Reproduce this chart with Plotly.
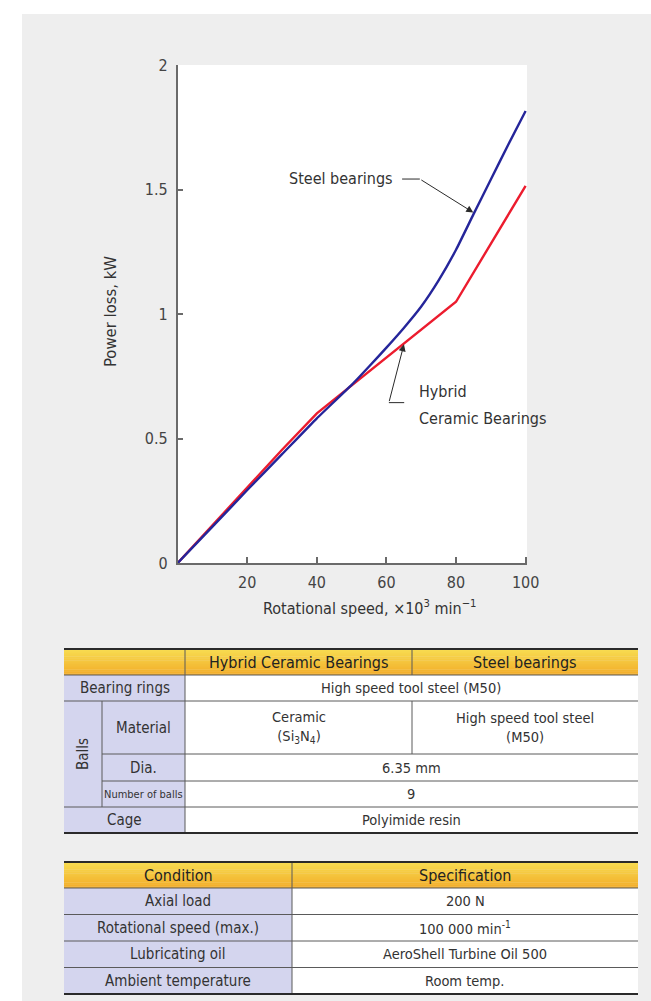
import numpy as np
import plotly.graph_objects as go

# ---- data -------------------------------------------------------------
speed_steel = [0, 10, 20, 30, 40, 50, 55, 60, 65, 70, 75, 80, 85, 90, 95, 100]
loss_steel = [0, 0.146, 0.293, 0.437, 0.581, 0.715, 0.789, 0.865, 0.944, 1.030,
              1.135, 1.258, 1.400, 1.540, 1.680, 1.815]
speed_hybrid = [0, 10, 20, 30, 40, 80, 100]
loss_hybrid = [0, 0.153, 0.305, 0.455, 0.601, 1.049, 1.515]

x_ticks = [20, 40, 60, 80, 100]
y_ticks = [0, 0.5, 1, 1.5, 2]
y_tick_text = ["0", "0.5", "1", "1.5", "2"]

spec_header = ["Hybrid Ceramic Bearings", "Steel bearings"]
row_labels = ["Bearing rings", "Material", "Dia.", "Number of balls", "Cage"]
group_label = "Balls"
ring_value = "High speed tool steel (M50)"
material_values = ["Ceramic<br>(Si<sub>3</sub>N<sub>4</sub>)", "High speed tool steel<br>(M50)"]
dia_value = "6.35 mm"
balls_value = "9"
cage_value = "Polyimide resin"

cond_header = ["Condition", "Specification"]
conditions = ["Axial load", "Rotational speed (max.)", "Lubricating oil", "Ambient temperature"]
specifications = ["200 N", "100 000 min<sup>-1</sup>", "AeroShell Turbine Oil 500", "Room temp."]

# ---- page geometry ----------------------------------------------------
W, H = 651, 1001
FONT = "DejaVu Sans Condensed, Liberation Sans Narrow, Arial Narrow, sans-serif"
BLUE = "#25259a"
RED = "#ec1c2e"
TXT = "#333333"


def px(x):
    return x / W


def py(y):
    return 1 - y / H


shapes = []
annotations = []


def rect(x0, y0, x1, y1, fill, layer="above"):
    shapes.append(dict(type="rect", xref="paper", yref="paper",
                       x0=px(x0), x1=px(x1), y0=py(y1), y1=py(y0),
                       fillcolor=fill, line=dict(width=0), layer=layer))


def hline(x0, x1, y, color="#5a5a5a", width=1):
    shapes.append(dict(type="line", xref="paper", yref="paper",
                       x0=px(x0), x1=px(x1), y0=py(y), y1=py(y),
                       line=dict(color=color, width=width), layer="above"))


def vline(x, y0, y1, color="#5a5a5a", width=1):
    shapes.append(dict(type="line", xref="paper", yref="paper",
                       x0=px(x), x1=px(x), y0=py(y0), y1=py(y1),
                       line=dict(color=color, width=width), layer="above"))


def label(text, x, y, size=14.5, color=TXT, angle=0):
    annotations.append(dict(text=text, xref="paper", yref="paper",
                            x=px(x), y=py(y), xanchor="center", yanchor="middle",
                            showarrow=False, textangle=angle,
                            font=dict(family=FONT, size=size, color=color)))


def gradient_header(x0, x1, y0, y1, n=14):
    top = np.array([248, 221, 82])
    bot = np.array([242, 172, 40])
    h = (y1 - y0) / n
    for i in range(n):
        c = top + (bot - top) * (i + 0.5) / n
        rect(x0, y0 + i * h, x1, y0 + (i + 1) * h + 0.4,
             "rgb(%d,%d,%d)" % tuple(c.round()))


# white margin around the grey panel
rect(0, 0, W, 14, "white")
rect(0, 0, 22, H, "white")

# ---- chart ------------------------------------------------------------
fig = go.Figure()
fig.add_trace(go.Scatter(x=speed_hybrid, y=loss_hybrid, mode="lines",
                         line=dict(color=RED, width=2.4), hoverinfo="skip"))
fig.add_trace(go.Scatter(x=speed_steel, y=loss_steel, mode="lines",
                         line=dict(color=BLUE, width=2.4, shape="spline", smoothing=0.4),
                         hoverinfo="skip"))

# leader lines (data coordinates)
steel_tip = 85.2
hyb_tip = 65.1
leader = "#2a2a2a"
for (xa, ya, xb, yb) in [(64.5, 1.542, 69.6, 1.542), (65.1, 0.644, 60.7, 0.644)]:
    shapes.append(dict(type="line", xref="x", yref="y", x0=xa, y0=ya, x1=xb, y1=yb,
                       line=dict(color=leader, width=1)))
annotations.append(dict(x=steel_tip, y=float(np.interp(steel_tip, speed_steel, loss_steel)),
                        ax=69.6, ay=1.542, xref="x", yref="y", axref="x", ayref="y",
                        text="", showarrow=True, arrowhead=2, arrowsize=1.4,
                        arrowwidth=1, arrowcolor=leader, standoff=1))
annotations.append(dict(x=hyb_tip, y=float(np.interp(hyb_tip, speed_hybrid, loss_hybrid)),
                        ax=60.7, ay=0.644, xref="x", yref="y", axref="x", ayref="y",
                        text="", showarrow=True, arrowhead=2, arrowsize=1.4,
                        arrowwidth=1, arrowcolor=leader, standoff=1))
annotations.append(dict(x=62.4, y=1.546, xref="x", yref="y", xanchor="right", yanchor="middle",
                        text="Steel bearings", showarrow=False,
                        font=dict(family=FONT, size=16, color=TXT)))
annotations.append(dict(x=68.8, y=0.687, xref="x", yref="y", xanchor="left", yanchor="middle",
                        text="Hybrid", showarrow=False,
                        font=dict(family=FONT, size=16, color=TXT)))
annotations.append(dict(x=68.8, y=0.582, xref="x", yref="y", xanchor="left", yanchor="middle",
                        text="Ceramic Bearings", showarrow=False,
                        font=dict(family=FONT, size=16, color=TXT)))

# axis titles
label("Rotational speed, \u00d710<sup>3</sup> min<sup>\u22121</sup>", 370, 607, size=16)
label("Power loss, kW", 110, 312, size=16.5, angle=-90)

# ---- table 1 ----------------------------------------------------------
c = [64, 102, 185, 412, 638]
r = [649, 675, 701, 754, 781, 807, 833]
gradient_header(c[0], c[4], r[0], r[1])
rect(c[2], r[1], c[4], r[6], "white")
rect(c[0], r[1], c[2], r[6], "#d4d5ee")
hline(c[0], c[4], r[1])
hline(c[0], c[4], r[2])
hline(c[1], c[4], r[3])
hline(c[1], c[4], r[4])
hline(c[0], c[4], r[5])
vline(c[2], r[0], r[6])
vline(c[1], r[2], r[5])
vline(c[3], r[0], r[1])
vline(c[3], r[2], r[3])
hline(c[0], c[4], r[0], color="#2a2a2a", width=2)
hline(c[0], c[4], r[6], color="#2a2a2a", width=2)

label(spec_header[0], (c[2] + c[3]) / 2, (r[0] + r[1]) / 2, size=16, color="#222")
label(spec_header[1], (c[3] + c[4]) / 2, (r[0] + r[1]) / 2, size=16, color="#222")
label(row_labels[0], (c[0] + c[2]) / 2, (r[1] + r[2]) / 2, size=15)
label(ring_value, (c[2] + c[4]) / 2, (r[1] + r[2]) / 2)
label(group_label, (c[0] + c[1]) / 2, (r[2] + r[5]) / 2, size=15, angle=-90)
label(row_labels[1], (c[1] + c[2]) / 2, (r[2] + r[3]) / 2, size=15)
label(material_values[0], (c[2] + c[3]) / 2, (r[2] + r[3]) / 2)
label(material_values[1], (c[3] + c[4]) / 2, (r[2] + r[3]) / 2)
label(row_labels[2], (c[1] + c[2]) / 2, (r[3] + r[4]) / 2, size=15)
label(dia_value, (c[2] + c[4]) / 2, (r[3] + r[4]) / 2)
label(row_labels[3], (c[1] + c[2]) / 2, (r[4] + r[5]) / 2, size=11)
label(balls_value, (c[2] + c[4]) / 2, (r[4] + r[5]) / 2)
label(row_labels[4], (c[0] + c[2]) / 2, (r[5] + r[6]) / 2, size=15)
label(cage_value, (c[2] + c[4]) / 2, (r[5] + r[6]) / 2)

# ---- table 2 ----------------------------------------------------------
c2 = [64, 292, 638]
r2 = [862, 888, 914.5, 941, 967.5, 994]
gradient_header(c2[0], c2[2], r2[0], r2[1])
rect(c2[0], r2[1], c2[1], r2[5], "#d4d5ee")
rect(c2[1], r2[1], c2[2], r2[5], "white")
for y in r2[1:5]:
    hline(c2[0], c2[2], y)
vline(c2[1], r2[0], r2[5])
hline(c2[0], c2[2], r2[0], color="#2a2a2a", width=2)
hline(c2[0], c2[2], r2[5], color="#2a2a2a", width=2)
label(cond_header[0], (c2[0] + c2[1]) / 2, (r2[0] + r2[1]) / 2, size=16, color="#222")
label(cond_header[1], (c2[1] + c2[2]) / 2, (r2[0] + r2[1]) / 2, size=16, color="#222")
for i, (cond, spec) in enumerate(zip(conditions, specifications)):
    yc = (r2[i + 1] + r2[i + 2]) / 2
    label(cond, (c2[0] + c2[1]) / 2, yc, size=15)
    label(spec, (c2[1] + c2[2]) / 2, yc)

# ---- layout -----------------------------------------------------------
axis_common = dict(showgrid=False, zeroline=False, showline=True, linecolor="#6a6a6a",
                   linewidth=1.5, ticks="inside", ticklen=6, tickwidth=1.5, automargin=False,
                   tickcolor="#6a6a6a", tickfont=dict(family=FONT, size=16, color="#444"))
fig.update_layout(
    width=W, height=H,
    margin=dict(l=0, r=0, t=0, b=0, pad=0, autoexpand=False),
    paper_bgcolor="#eeeeee",
    plot_bgcolor="white",
    showlegend=False,
    xaxis=dict(domain=[px(177.7), px(527)], range=[0, 100.4], tickvals=x_ticks,
               ticklabelstandoff=4, **axis_common),
    yaxis=dict(domain=[py(563), py(65)], range=[0, 2], tickvals=y_ticks,
               ticktext=y_tick_text, ticklabelstandoff=5, **axis_common),
    shapes=shapes,
    annotations=annotations,
)

fig.write_html("out.html", config=dict(displayModeBar=False),
               post_script="document.body.style.margin='0';")
